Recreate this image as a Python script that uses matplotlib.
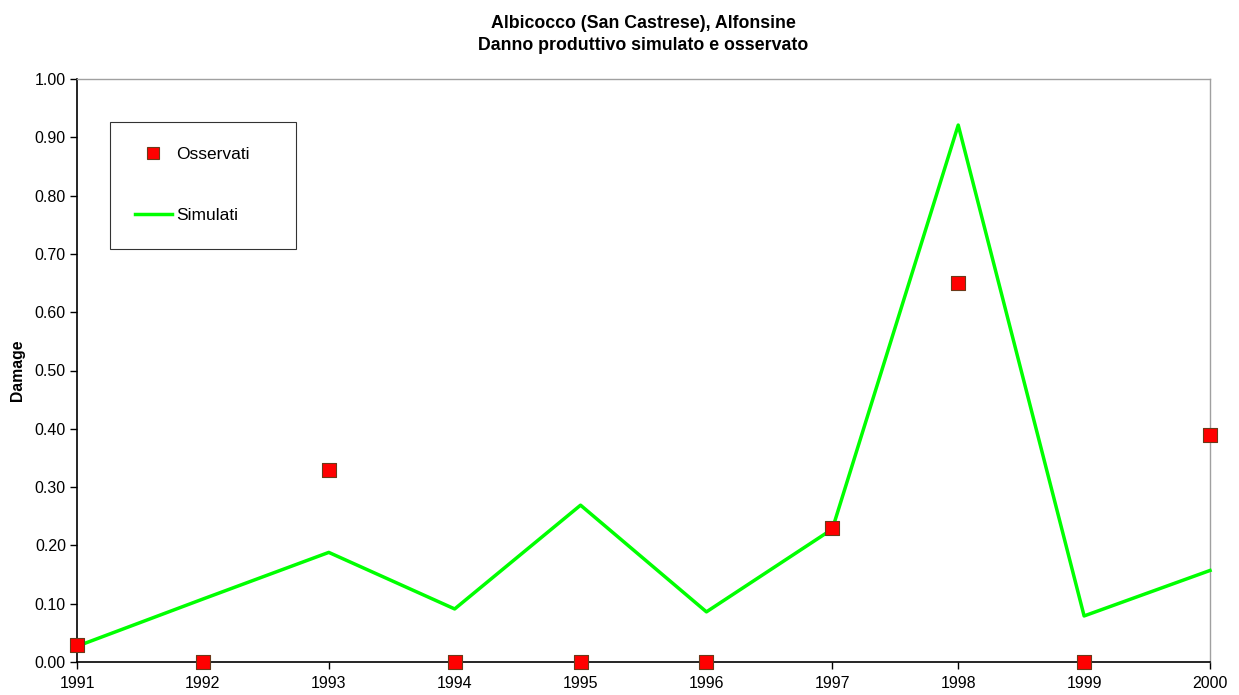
import matplotlib
matplotlib.use("Agg")
import matplotlib.pyplot as plt
from matplotlib.lines import Line2D

years = [1991, 1992, 1993, 1994, 1995, 1996, 1997, 1998, 1999, 2000]
simulati = [0.027, 0.108, 0.188, 0.091, 0.269, 0.086, 0.228, 0.921, 0.079, 0.157]
osservati = [0.03, 0.0, 0.33, 0.0, 0.0, 0.0, 0.23, 0.65, 0.0, 0.39]
yticks = [0.0, 0.1, 0.2, 0.3, 0.4, 0.5, 0.6, 0.7, 0.8, 0.9, 1.0]

plt.rcParams['font.family'] = ['Liberation Sans', 'DejaVu Sans']

fig = plt.figure(figsize=(12.39, 6.95), dpi=100)
W, H = 1239, 695
AX_L, AX_R, AX_T, AX_B = 77, 1210, 79, 662
ax = fig.add_axes([AX_L / W, 1 - AX_B / H, (AX_R - AX_L) / W, (AX_B - AX_T) / H])

ax.plot(years, simulati, color='#00ff00', lw=2.5, zorder=3, clip_on=False)
ax.scatter(years, osservati, marker='s', s=100, facecolor='#ff0000',
           edgecolor='#6b3a1a', linewidth=0.8, zorder=4, clip_on=False)

ax.set_xlim(1991, 2000)
ax.set_ylim(0, 1.0)
ax.set_xticks(years)
ax.set_xticklabels([str(y) for y in years], fontsize=11.5)
ax.set_yticks(yticks)
ax.set_yticklabels([f"{v:.2f}" for v in yticks], fontsize=11.5)
ax.tick_params(direction='out', length=5, width=1, color='black')
ax.tick_params(axis='y', pad=3)
ax.tick_params(axis='x', pad=5)

for s in ['left', 'bottom']:
    ax.spines[s].set_color('black')
    ax.spines[s].set_linewidth(1.2)
for s in ['top', 'right']:
    ax.spines[s].set_color('#a0a0a0')
    ax.spines[s].set_linewidth(1.0)

ax.set_ylabel('Damage', fontsize=11.3, fontweight='bold', labelpad=7)
ax.set_title('Albicocco (San Castrese), Alfonsine\nDanno produttivo simulato e osservato',
             fontsize=12.8, fontweight='bold', pad=21, linespacing=1.4)

handles = [
    Line2D([], [], marker='s', ls='none', markersize=9, markerfacecolor='#ff0000',
           markeredgecolor='#6b3a1a', markeredgewidth=0.8),
    Line2D([], [], color='#00ff00', lw=2.5),
]
axw, axh = AX_R - AX_L, AX_B - AX_T
bx0 = (110 - AX_L) / axw
by1 = (AX_B - 122) / axh
by0 = (AX_B - 249) / axh
bw = (296 - 110) / axw
leg = ax.legend(handles, ['Osservati', 'Simulati'], loc='upper left',
                bbox_to_anchor=(bx0, by0, bw, by1 - by0), mode='expand',
                frameon=True, fancybox=False, fontsize=12.5, labelspacing=2.65,
                borderpad=1.45, handlelength=2.1, handletextpad=0.25,
                borderaxespad=0, edgecolor='black')
leg.get_frame().set_linewidth(0.8)

fig.savefig('out.png', dpi=100)
